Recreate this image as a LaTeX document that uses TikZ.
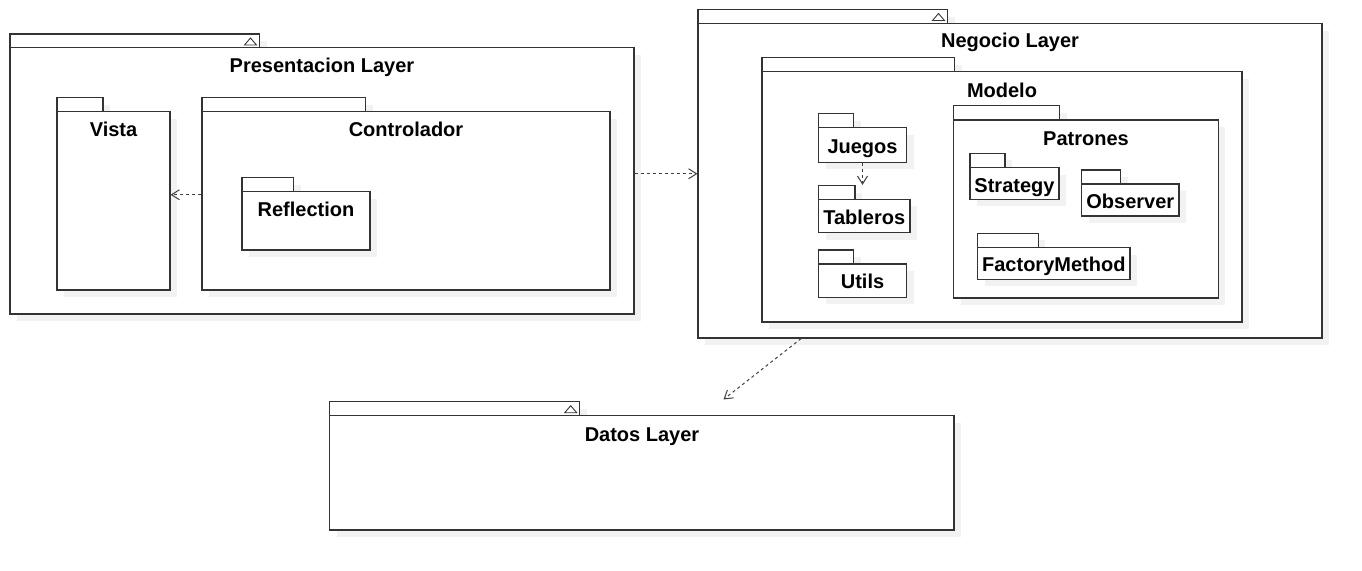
\documentclass[tikz,border=0pt]{standalone}
\usepackage{fontspec}
\setmainfont{Liberation Sans}
\usetikzlibrary{arrows.meta,fit,calc}
\tikzset{
  pkg/.style={draw=black!80, line width=1.1pt, fill=white, inner sep=0pt},
  shadowbox/.style={fill=black!5},
  ttl/.style={font=\fontsize{20}{24}\selectfont\bfseries, anchor=base, inner sep=0pt},
  dep/.style={draw=black!75, line width=1pt, dash pattern=on 3pt off 3pt,
    -{Straight Barb[length=8pt,width=10pt,line width=1pt]}},
  tri/.style={draw=black!80, line width=0.9pt, fill=white, line join=miter}
}
% name, x1, tabtop, tabright, bodytop, x2, y2
\newcommand{\pkgdraw}[7]{%
  \fill[shadowbox] (#2+7,#3+7) rectangle (#4+7,#5+7);
  \fill[shadowbox] (#2+7,#5+7) rectangle (#6+7,#7+7);
  \node[pkg, fit={(#2,#3) (#4,#5)}] (#1-tab) {};
  \node[pkg, fit={(#2,#5) (#6,#7)}] (#1) {};
}
% tab triangle: tabright, tabtop
\newcommand{\tabtri}[2]{%
  \draw[tri] (#1-15,#2+11) -- (#1-3,#2+11) -- (#1-9,#2+4) -- cycle;
}
\begin{document}
\begin{tikzpicture}[x=1pt,y=-1pt]
\useasboundingbox (0,0) rectangle (1362,570);

% ---------- Presentacion Layer ----------
\pkgdraw{pres}{10}{34}{259.5}{47.5}{634}{314}
\tabtri{259.5}{34}
\node[ttl] (pres-t) at (322,72) {Presentacion Layer};

\pkgdraw{vista}{57}{97.5}{103}{111.5}{170}{290}
\node[ttl] (vista-t) at (113.5,136.7) {Vista};

\pkgdraw{ctrl}{202}{97.5}{365.5}{111.5}{610}{290}
\node[ttl] (ctrl-t) at (406,136.7) {Controlador};

\pkgdraw{refl}{242}{177.5}{293.5}{191.5}{370}{250}
\node[ttl] (refl-t) at (306,216.7) {Reflection};

% ---------- Negocio Layer ----------
\pkgdraw{neg}{698}{9.5}{947.5}{23.5}{1322}{338}
\tabtri{947.5}{9.5}
\node[ttl] (neg-t) at (1010,47.3) {Negocio Layer};

\pkgdraw{modelo}{762}{57.5}{954.5}{71.5}{1242}{322}
\node[ttl] (modelo-t) at (1002,97.5) {Modelo};

\pkgdraw{juegos}{818.5}{113.5}{853.5}{127.5}{906.5}{162.3}
\node[ttl] (juegos-t) at (862.5,153.3) {Juegos};

\pkgdraw{tableros}{818.5}{185.5}{855}{199.3}{910}{232.7}
\node[ttl] (tableros-t) at (864.2,224) {Tableros};

\pkgdraw{utils}{818.5}{250}{853.5}{264}{906.5}{297.3}
\node[ttl] (utils-t) at (862.5,288.3) {Utils};

\pkgdraw{patrones}{953.5}{105.5}{1059.5}{120}{1218.3}{298}
\node[ttl] (patrones-t) at (1086,145) {Patrones};

\pkgdraw{strategy}{970}{153.3}{1005}{167.7}{1059}{199.3}
\node[ttl] (strategy-t) at (1014.5,192.7) {Strategy};

\pkgdraw{observer}{1081.7}{170}{1120.7}{184}{1179}{216}
\node[ttl] (observer-t) at (1130.3,208.3) {Observer};

\pkgdraw{factory}{977.7}{233.3}{1038.3}{247.7}{1130}{279.3}
\node[ttl] (factory-t) at (1053.8,271.7) {FactoryMethod};

% ---------- Datos Layer ----------
\pkgdraw{datos}{329.7}{401.7}{579.7}{415.7}{954}{530}
\tabtri{579.7}{401.7}
\node[ttl] (datos-t) at (642,441) {Datos Layer};

% ---------- dependencies ----------
\draw[dep] ([yshift=6pt]ctrl.west) -- ([yshift=6pt]ctrl.west -| vista.east);
\draw[dep] ([yshift=7pt]pres.east) -- ([yshift=7pt]pres.east -| neg.west);
\draw[dep] (juegos.south) -- (juegos.south |- tableros-tab.north);
\draw[dep] ($(neg.south west)+(103.7,0)$) -- ($(datos-tab.north west)+(394.3,-1.7)$);
\end{tikzpicture}
\end{document}
